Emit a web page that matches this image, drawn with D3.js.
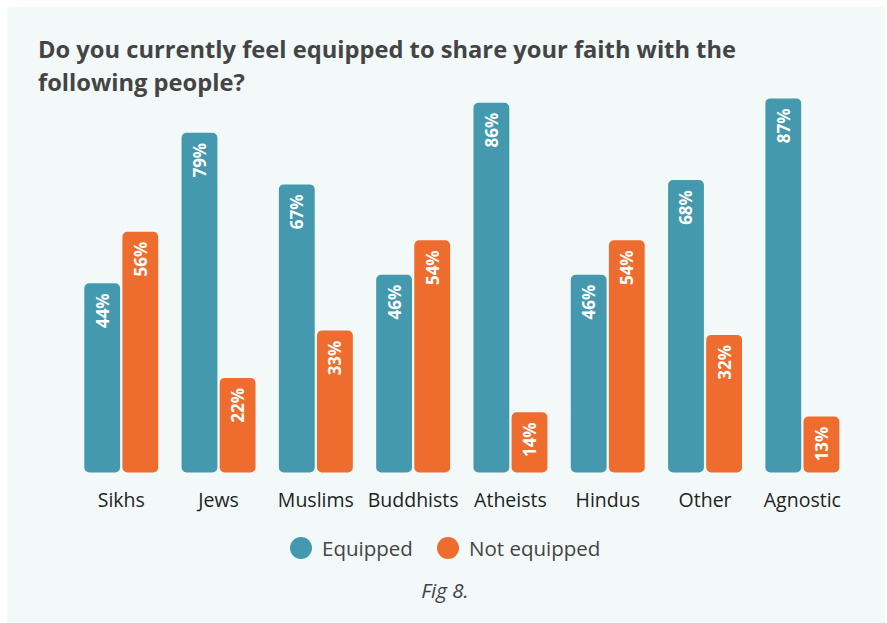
<!DOCTYPE html>
<html>
<head>
<meta charset="utf-8">
<script src="https://cdn.jsdelivr.net/npm/d3@7"></script>
<style>
  html, body { margin: 0; padding: 0; background: #ffffff; }
  svg { display: block; }
  text { font-family: "Open Sans", "Lato", sans-serif; }
</style>
</head>
<body>
<svg id="chart" width="887" height="623"></svg>
<script>
// Survey responses, percent of respondents
const categories = ["Sikhs", "Jews", "Muslims", "Buddhists", "Atheists", "Hindus", "Other", "Agnostic"];
const equipped    = [44, 79, 67, 46, 86, 46, 68, 87];
const notEquipped = [56, 22, 33, 54, 14, 54, 32, 13];
const seriesNames = ["Equipped", "Not equipped"];
const titleLines = ["Do you currently feel equipped to share your faith with the", "following people?"];
const caption = "Fig 8.";

const colors = { "Equipped": "#4599ae", "Not equipped": "#ee6c2d" };

const svg = d3.select("#chart");

// panel background
svg.append("rect")
  .attr("x", 7).attr("y", 7)
  .attr("width", 878).attr("height", 616)
  .attr("fill", "#f3f9f9");

// title
const title = svg.append("text")
  .attr("x", 38).attr("y", 58)
  .attr("fill", "#444444")
  .attr("font-size", 23.7)
  .attr("font-weight", 700);
title.selectAll("tspan").data(titleLines).join("tspan")
  .attr("x", 38)
  .attr("dy", (d, i) => i === 0 ? 0 : 33)
  .text(d => d);

// scales
const x0 = d3.scaleBand()
  .domain(categories)
  .range([72.6, 72.6 + 8 * 97.3])
  .paddingInner(0.24)
  .paddingOuter(0.12);

const x1 = d3.scaleBand()
  .domain(seriesNames)
  .range([0, x0.bandwidth()])
  .paddingInner(0.06);

const y = d3.scaleLinear().domain([0, 100]).range([472.5, 42.5]);

const rows = categories.map((c, i) => ({
  category: c,
  values: [
    { key: "Equipped", value: equipped[i] },
    { key: "Not equipped", value: notEquipped[i] }
  ]
}));

const r = 5;
// bar path with rounded corners at all four corners
function barPath(x, yTop, w, h) {
  const rr = Math.min(r, w / 2, h / 2);
  return `M${x},${yTop + rr}
    a${rr},${rr} 0 0 1 ${rr},${-rr}
    h${w - 2 * rr}
    a${rr},${rr} 0 0 1 ${rr},${rr}
    v${h - 2 * rr}
    a${rr},${rr} 0 0 1 ${-rr},${rr}
    h${-(w - 2 * rr)}
    a${rr},${rr} 0 0 1 ${-rr},${-rr}
    Z`;
}

const groups = svg.append("g").selectAll("g")
  .data(rows).join("g")
  .attr("transform", d => `translate(${x0(d.category)},0)`);

groups.selectAll("path")
  .data(d => d.values).join("path")
  .attr("d", d => barPath(x1(d.key), y(d.value), x1.bandwidth(), y(0) - y(d.value)))
  .attr("fill", d => colors[d.key]);

// value labels, rotated, near the top of each bar
groups.selectAll("text.val")
  .data(d => d.values).join("text")
  .attr("class", "val")
  .attr("transform", d => `translate(${x1(d.key) + x1.bandwidth() / 2 + 6.5},${y(d.value) + 10}) rotate(-90)`)
  .attr("text-anchor", "end")
  .attr("fill", "#ffffff")
  .attr("font-size", 17)
  .attr("font-weight", 700)
  .text(d => d.value + "%");

// category axis
const xAxis = d3.axisBottom(x0).tickSize(0).tickPadding(0);
const axisG = svg.append("g")
  .attr("transform", `translate(0,${y(0) + 34.5})`)
  .call(xAxis);
axisG.select(".domain").remove();
axisG.selectAll("text")
  .attr("font-size", 19.5)
  .attr("fill", "#222222")
  .attr("font-family", "'Open Sans', Lato, sans-serif")
  .attr("dy", 0);

// legend
const legendItems = [
  { key: "Equipped", cx: 301, tx: 322 },
  { key: "Not equipped", cx: 448, tx: 469 }
];
const legend = svg.append("g");
legend.selectAll("circle").data(legendItems).join("circle")
  .attr("cx", d => d.cx).attr("cy", 548).attr("r", 11)
  .attr("fill", d => colors[d.key]);
legend.selectAll("text").data(legendItems).join("text")
  .attr("x", d => d.tx).attr("y", 556)
  .attr("font-size", 20.5)
  .attr("fill", "#444444")
  .text(d => d.key);

// caption
svg.append("text")
  .attr("x", 445).attr("y", 598)
  .attr("text-anchor", "middle")
  .attr("font-size", 20.5)
  .attr("font-style", "italic")
  .attr("fill", "#444444")
  .text(caption);
</script>
</body>
</html>
